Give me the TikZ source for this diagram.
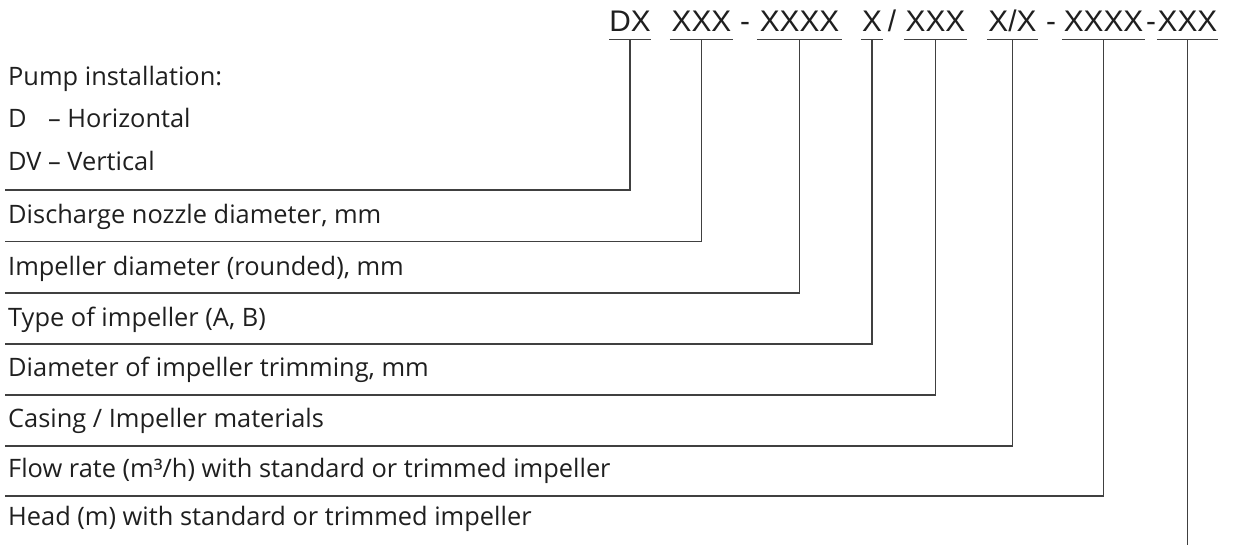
\documentclass[tikz,border=0pt]{standalone}
\usepackage{fontspec}
\setmainfont{Open Sans}
\newfontfamily\codefont{Liberation Sans}
\begin{document}
\begin{tikzpicture}[x=1pt,y=-1pt,
  lbl/.style={anchor=base west, inner sep=0pt, font=\fontsize{25.4}{30}\selectfont, text=black!88},
  seg/.style={anchor=base, inner xsep=0pt, inner ysep=7.5pt, font=\codefont\fontsize{29.8}{32}\selectfont, text=black!88},
  sep/.style={anchor=base, inner sep=0pt, font=\codefont\fontsize{29.8}{32}\selectfont, text=black!88},
  ln/.style={draw=black!75, line width=1.3pt},
  ]
\useasboundingbox (0,0) rectangle (1233,545);
% code segments
\node[seg, minimum width=40pt] (dx)    at (630,31.5)   {DX};
\node[seg, minimum width=63pt] (dn)    at (701.5,31.5) {XXX};
\node[sep] (s1) at (745,31.5) {-};
\node[seg, minimum width=85pt] (imp)   at (799.5,31.5) {XXXX};
\node[seg, minimum width=22pt] (typ)   at (872,31.5)   {X};
\node[sep] (s2) at (892,31.5) {/};
\node[seg, minimum width=63pt] (trim)  at (935.5,31.5) {XXX};
\node[seg, minimum width=51pt] (mat)   at (1012.5,31.5) {X/X};
\node[sep] (s3) at (1051,31.5) {-};
\node[seg, minimum width=83pt] (flow)  at (1103.5,31.5) {XXXX};
\node[sep] (s4) at (1151,31.5) {-};
\node[seg, minimum width=61pt] (head)  at (1187.5,31.5) {XXX};
\foreach \n in {dx,dn,imp,typ,trim,mat,flow,head}
  \draw[ln] (\n.south west) -- (\n.south east);
% labels
\node[lbl] (t0) at (8,86)  {Pump installation:};
\node[lbl] (t1) at (8,128) {\rlap{D}\phantom{DV} – Horizontal};
\node[lbl] (t2) at (8,171) {DV – Vertical};
\node[lbl] (t3) at (8,224) {Discharge nozzle diameter, mm};
\node[lbl] (t4) at (8,275) {Impeller diameter (rounded), mm};
\node[lbl] (t5) at (8,326) {Type of impeller (A, B)};
\node[lbl] (t6) at (8,376) {Diameter of impeller trimming, mm};
\node[lbl] (t7) at (8,427) {Casing / Impeller materials};
\node[lbl] (t8) at (8,477) {Flow rate (m³/h) with standard or trimmed impeller};
\node[lbl] (t9) at (8,525) {Head (m) with standard or trimmed impeller};
% row line ends
\coordinate (r1) at (5,190);
\coordinate (r2) at (5,241.5);
\coordinate (r3) at (5,293);
\coordinate (r4) at (5,344);
\coordinate (r5) at (5,395);
\coordinate (r6) at (5,446);
\coordinate (r7) at (5,496);
\coordinate (bot) at (0,545);
% connectors
\draw[ln] (dx.south)   |- (r1);
\draw[ln] (dn.south)   |- (r2);
\draw[ln] (imp.south)  |- (r3);
\draw[ln] (typ.south)  |- (r4);
\draw[ln] (trim.south) |- (r5);
\draw[ln] (mat.south)  |- (r6);
\draw[ln] (flow.south) |- (r7);
\draw[ln] (head.south) -- (head.south |- bot);
\end{tikzpicture}
\end{document}
